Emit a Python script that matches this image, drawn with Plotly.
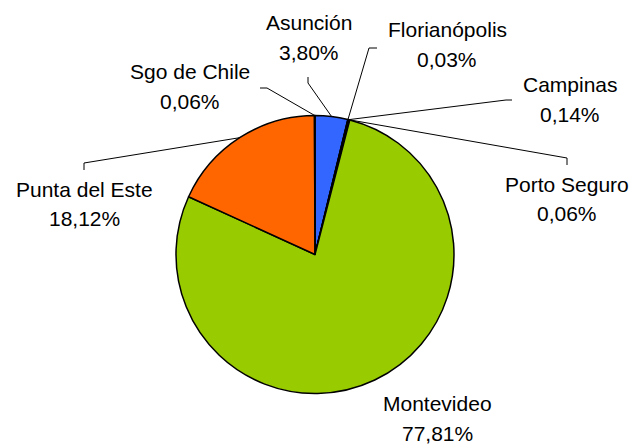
import math
import plotly.graph_objects as go

# ---- data ----
cities = ["Asunción", "Florianópolis", "Campinas", "Porto Seguro",
          "Montevideo", "Punta del Este", "Sgo de Chile"]
shares = [3.80, 0.03, 0.14, 0.06, 77.81, 18.12, 0.06]
pct_labels = ["3,80%", "0,03%", "0,14%", "0,06%", "77,81%", "18,12%", "0,06%"]
colors = ["#3366FF", "#9999FF", "#993366", "#FFFFCC", "#99CC00", "#FF6600", "#CCFFFF"]

# ---- layout constants (pixels) ----
W, H = 637, 444
CX, CY, R = 315, 254.5, 139
FS = 21

label_pos = {
    "Asunción": (309, 22),
    "Florianópolis": (447, 30),
    "Campinas": (570, 84),
    "Porto Seguro": (567, 184),
    "Montevideo": (438, 403),
    "Punta del Este": (84, 189),
    "Sgo de Chile": (190, 71),
}
leaders = {
    "Asunción": [(308, 77), (308, 83)],
    "Florianópolis": [(377, 48), (369, 48)],
    "Campinas": [(512, 100), (506, 100)],
    "Porto Seguro": [(567, 165), (567, 158)],
    "Punta del Este": [(84, 170), (84, 163)],
    "Sgo de Chile": [(260, 88), (267, 88)],
}
LINE_GAP = 30


def px(x):
    return x / W


def py(y):
    return 1 - y / H


fig = go.Figure(go.Pie(
    labels=cities, values=shares, sort=False, direction="clockwise", rotation=0,
    marker=dict(colors=colors, line=dict(color="black", width=1.5)),
    textinfo="none", hoverinfo="label+percent", showlegend=False,
    domain=dict(x=[px(CX - R), px(CX + R)], y=[py(CY + R), py(CY - R)]),
))

total = sum(shares)
annotations = []
shapes = []
cum = 0.0
for city, v, pl in zip(cities, shares, pct_labels):
    mid = (cum + v / 2) / total * 2 * math.pi
    cum += v
    ex, ey = CX + R * math.sin(mid), CY - R * math.cos(mid)
    lx, ly = label_pos[city]
    for txt, yy in ((city, ly), (pl, ly + LINE_GAP)):
        annotations.append(dict(
            text=txt, x=px(lx), y=py(yy), xref="paper", yref="paper",
            xanchor="center", yanchor="middle", showarrow=False,
            font=dict(family="Liberation Sans, Arial, sans-serif", size=FS, color="black"),
        ))
    if city in leaders:
        (sx, sy), (tx, ty) = leaders[city]
        path = f"M {px(sx)} {py(sy)} L {px(tx)} {py(ty)} L {px(ex)} {py(ey)}"
        shapes.append(dict(type="path", path=path, xref="paper", yref="paper",
                           line=dict(color="black", width=1)))

fig.update_layout(
    width=W, height=H, margin=dict(l=0, r=0, t=0, b=0),
    paper_bgcolor="white", plot_bgcolor="white",
    annotations=annotations, shapes=shapes,
)

fig.write_html("out.html", config={"displayModeBar": False},
               post_script="document.body.style.margin='0';document.body.style.overflow='hidden';")
